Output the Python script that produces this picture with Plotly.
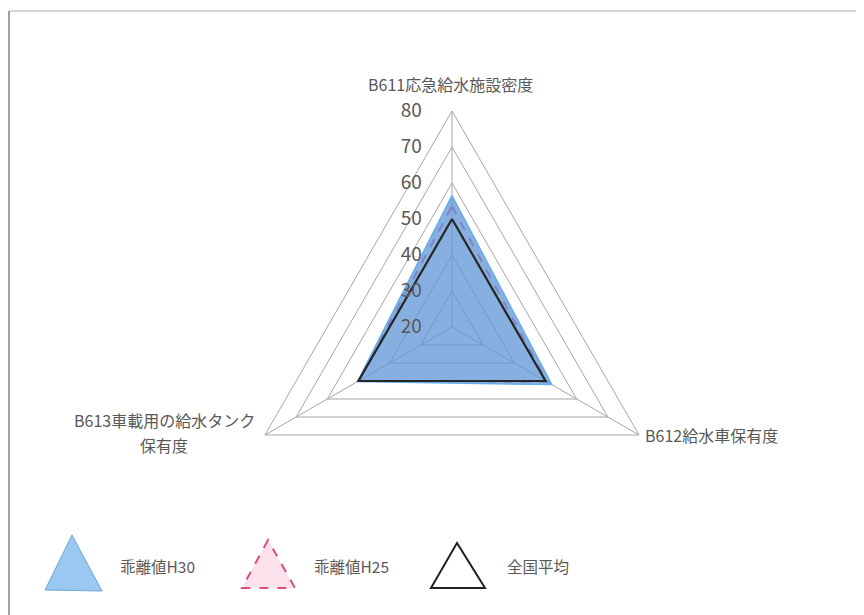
import plotly.graph_objects as go

# ---- data ----
categories = ["B611応急給水施設密度", "B612給水車保有度", "B613車載用の給水タンク<br>保有度"]
h30_values = [56.5, 52.0, 50.3]
h25_values = [53.5, 50.5, 50.0]
national_values = [50.0, 50.0, 50.0]
series_names = ["乖離値H30", "乖離値H25", "全国平均"]
radial_range = [20, 80]
radial_dtick = 10

OFF = 8  # page body margin
W, H = 864 - OFF, 615 - OFF
FONT = "Noto Sans CJK JP, Noto Sans, sans-serif"
TXT = "#595959"
GRID = "#A6A6A6"


def px(x, y):
    """reference screen pixel -> paper coords"""
    return (x - OFF) / W, 1 - (y - OFF) / H


def closed(vals):
    return list(vals) + [vals[0]]


theta = closed(categories)

fig = go.Figure()
fig.add_trace(go.Scatterpolar(
    r=closed(h25_values), theta=theta, mode="lines", name=series_names[1],
    line=dict(color="rgb(214,80,135)", width=2, dash="dash"),
    showlegend=False))
fig.add_trace(go.Scatterpolar(
    r=closed(h30_values), theta=theta, mode="lines", name=series_names[0],
    fill="toself", fillcolor="rgba(95,150,215,0.75)",
    line=dict(color="rgb(100,175,235)", width=1.5),
    showlegend=False))
fig.add_trace(go.Scatterpolar(
    r=closed(national_values), theta=theta, mode="lines", name=series_names[2],
    line=dict(color="#262626", width=2.2),
    showlegend=False))

cx, cy, R = 452, 327, 216
dx0, dy1 = px(cx - R, cy - R)
dx1, dy0 = px(cx + R, cy + R)
fig.update_layout(
    width=W, height=H,
    margin=dict(l=0, r=0, t=0, b=0),
    paper_bgcolor="white",
    font=dict(family=FONT, color=TXT),
    polar=dict(
        domain=dict(x=[dx0, dx1], y=[dy0, dy1]),
        bgcolor="white",
        gridshape="linear",
        angularaxis=dict(rotation=90, direction="clockwise", showticklabels=False,
                         ticks="", gridcolor=GRID, linecolor=GRID, gridwidth=1, linewidth=1),
        radialaxis=dict(range=radial_range, dtick=radial_dtick, angle=90, tickangle=90,
                        showline=False, gridcolor=GRID, gridwidth=1,
                        ticks="outside", ticklen=23, tickcolor="rgba(0,0,0,0)",
                        side="counterclockwise",
                        tickfont=dict(size=19, color=TXT, family=FONT)),
    ),
)

ann = []
lab_font = dict(size=16, color=TXT, family=FONT)
x, y = px(450, 84)
ann.append(dict(x=x, y=y, text=categories[0], xanchor="center", yanchor="middle"))
x, y = px(643, 435)
ann.append(dict(x=x, y=y, text=categories[1], xanchor="left", yanchor="middle"))
left_lines = categories[2].split("<br>")
for i, line in enumerate(left_lines):
    x, y = px(164, 420 + 25 * i)
    ann.append(dict(x=x, y=y, text=line, xanchor="center", yanchor="middle"))
for a in ann:
    a.update(xref="paper", yref="paper", showarrow=False, font=lab_font)

# legend (drawn)
legend_items = [
    dict(tri=[(72, 535), (45, 590), (102, 591)], fill="rgb(155,200,240)", line="rgb(110,165,215)",
         dash="solid", width=1, tx=118),
    dict(tri=[(268, 540), (242, 588), (295, 588)], fill="rgb(252,224,236)", line="rgb(214,80,135)",
         dash="dash", width=2, tx=312),
    dict(tri=[(457, 543), (431, 588), (485, 588)], fill="white", line="#222222",
         dash="solid", width=2, tx=505),
]
shapes = []
for item, name in zip(legend_items, series_names):
    pts = [px(*p) for p in item["tri"]]
    path = "M {} {} L {} {} L {} {} Z".format(pts[0][0], pts[0][1], pts[1][0], pts[1][1], pts[2][0], pts[2][1])
    shapes.append(dict(type="path", path=path, xref="paper", yref="paper",
                       fillcolor=item["fill"], line=dict(color=item["line"], width=item["width"], dash=item["dash"])))
    x, y = px(item["tx"], 566)
    ann.append(dict(x=x, y=y, text=name, xref="paper", yref="paper", showarrow=False,
                    xanchor="left", yanchor="middle", font=dict(size=15.5, color=TXT, family=FONT)))

# chart frame
fx0, fy0 = px(9, 11)
shapes.append(dict(type="line", xref="paper", yref="paper", x0=fx0, y0=fy0, x1=1.02, y1=fy0,
                   line=dict(color="#C8C8C8", width=1.5)))
shapes.append(dict(type="line", xref="paper", yref="paper", x0=fx0, y0=fy0, x1=fx0, y1=-0.02,
                   line=dict(color="#A0A0A0", width=2)))

fig.update_layout(annotations=ann, shapes=shapes)
fig.write_html("out.html")
